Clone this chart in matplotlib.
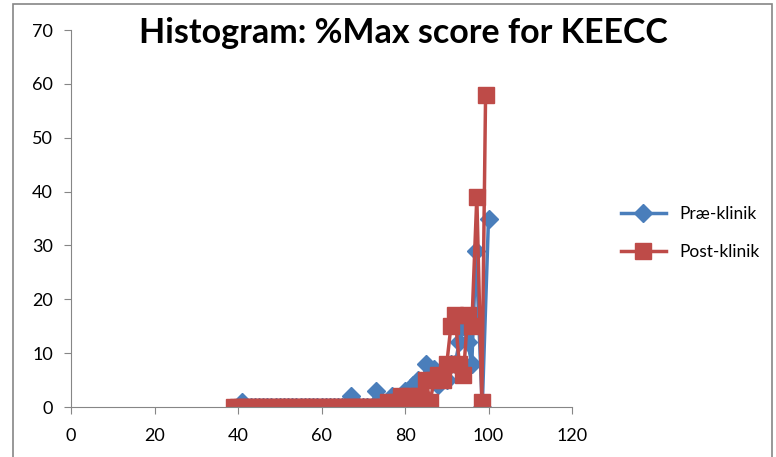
"""Histogram of %Max score for KEECC, pre vs post clinic.
"""
import matplotlib
matplotlib.use('Agg')
import matplotlib.pyplot as plt
from matplotlib.patches import Rectangle

# x = % of max score, y = number of students
pre_x = [40, 41, 42, 43, 44, 45, 46, 47, 48, 49, 50, 51, 52, 53, 54, 55, 56, 57,
         58, 59, 60, 61, 62, 63, 64, 65, 66, 67, 68, 69, 70, 71, 72, 73, 74, 75,
         76, 77, 78, 79, 80, 81, 82, 83, 84, 85, 86, 87, 88, 89, 90, 91, 92, 93,
         94, 95, 96, 97, 98.5, 100]
pre_y = [0, 1, 0, 0, 0, 0, 0, 0, 0, 0, 0, 0, 0, 0, 0, 0, 0, 0,
         0, 0, 0, 0, 0, 0, 0, 0, 0, 2, 0, 0, 0, 0, 0, 3, 0, 0,
         0, 2, 0, 0, 3, 2, 4, 5, 2, 8, 6, 7, 4, 7, 5, 8, 8, 12,
         15, 12, 8, 29, 0, 35]

post_x = [39, 40, 41, 42, 43, 44, 45, 46, 47, 48, 49, 50, 51, 52, 53, 54, 55, 56,
          57, 58, 59, 60, 61, 62, 63, 64, 65, 66, 67, 68, 69, 70, 71, 72, 73, 74,
          75, 76, 77, 78, 79, 80, 81, 82, 83, 84, 85, 86, 87, 88, 89, 90, 91, 92,
          93, 94, 95, 96, 97.2, 98.4, 99.3]
post_y = [0, 0, 0, 0, 0, 0, 0, 0, 0, 0, 0, 0, 0, 0, 0, 0, 0, 0,
          0, 0, 0, 0, 0, 0, 0, 0, 0, 0, 0, 0, 0, 0, 0, 0, 0, 0,
          0, 1, 0, 1, 2, 1, 2, 0, 2, 1, 5, 1, 5, 6, 5, 8, 15, 17,
          8, 6, 17, 15, 39, 1, 58]

x_ticks = [0, 20, 40, 60, 80, 100, 120]
y_ticks = [0, 10, 20, 30, 40, 50, 60, 70]

plt.rcParams['font.family'] = ['Lato', 'DejaVu Sans']

fig = plt.figure(figsize=(7.76, 4.57), dpi=100)
ax = fig.add_axes([71 / 776, 50 / 457, 501 / 776, 377 / 457])

# ramme rundt om hele diagrammet, som i Excel
fig.patches.append(Rectangle((13 / 776, -0.1), 759 / 776, 1.1 - 4 / 457,
                             transform=fig.transFigure, fill=False,
                             edgecolor='#868686', linewidth=1.2))

ax.plot(pre_x, pre_y, color='#4A7EBB', linewidth=2.5, marker='D',
        markersize=9, label='Præ-klinik')
ax.plot(post_x, post_y, color='#BE4B48', linewidth=2.5, marker='s',
        markersize=11.5, label='Post-klinik')

ax.set_xlim(0, 120)
ax.set_ylim(0, 70)
ax.set_xticks(x_ticks)
ax.set_yticks(y_ticks)
ax.tick_params(direction='out', length=5, color='#868686', labelsize=13,
               labelcolor='#000000')
ax.tick_params(axis='y', pad=8)
ax.tick_params(axis='x', pad=10)
for side in ['top', 'right']:
    ax.spines[side].set_visible(False)
for side in ['left', 'bottom']:
    ax.spines[side].set_color('#868686')

fig.text(403 / 776, 1 - 33 / 457, 'Histogram: %Max score for KEECC',
         ha='center', va='center', fontsize=24.5, fontweight='bold')

ax.legend(loc='center left', bbox_to_anchor=(605 / 776, 1 - 233 / 457),
          bbox_transform=fig.transFigure, frameon=False, fontsize=12.5,
          handlelength=2.6, labelspacing=1.3)

fig.savefig('out.png', dpi=100)
